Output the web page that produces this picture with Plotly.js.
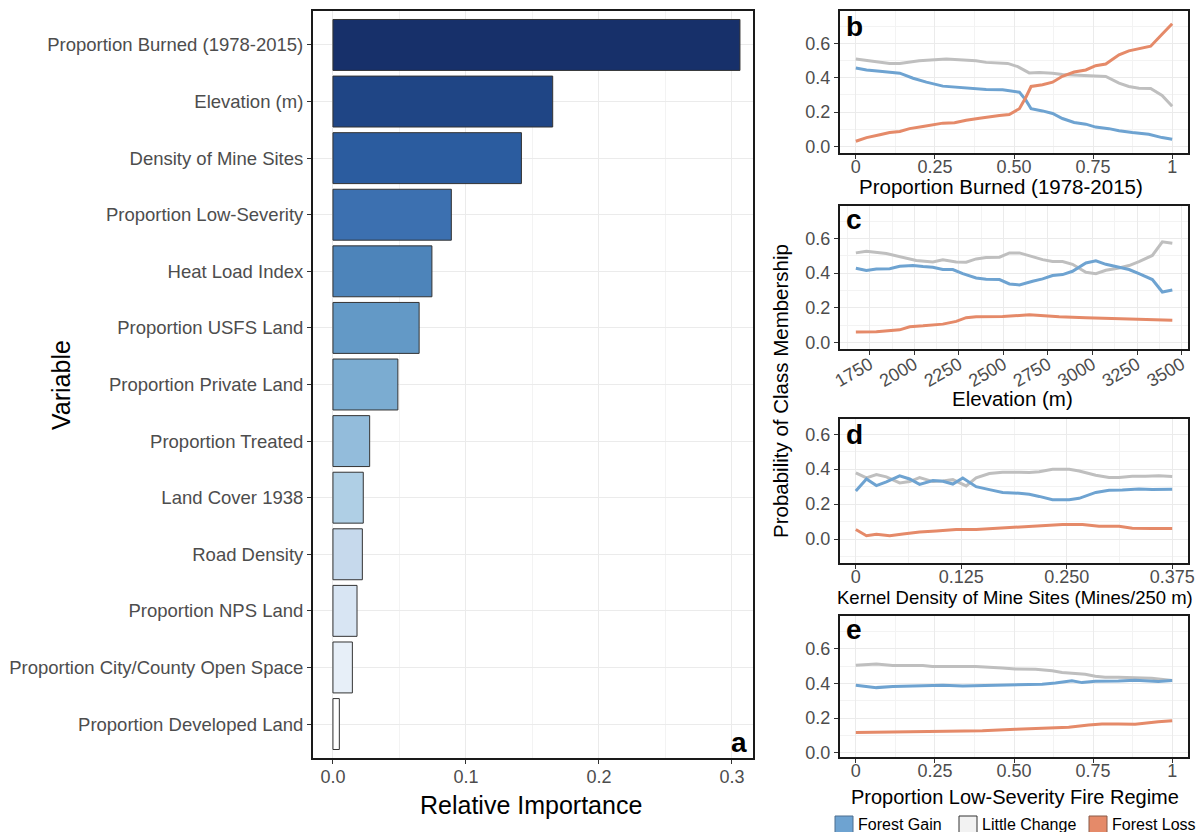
<!DOCTYPE html>
<html>
<head>
<meta charset="utf-8">
<script src="https://cdn.plot.ly/plotly-3.0.1.min.js"></script>
<style>html,body{margin:0;padding:0;background:#fff;}#chart{width:1198px;height:832px;}</style>
</head>
<body>
<div id="chart"></div>
<script>
// ---------- DATA ----------
const variables = ["Proportion Burned (1978-2015)","Elevation (m)","Density of Mine Sites","Proportion Low-Severity","Heat Load Index","Proportion USFS Land","Proportion Private Land","Proportion Treated","Land Cover 1938","Road Density","Proportion NPS Land","Proportion City/County Open Space","Proportion Developed Land"];
const importance = [0.306,0.1652,0.1417,0.0890,0.0744,0.0648,0.0488,0.0276,0.0228,0.0221,0.0181,0.0146,0.0048];
const barColors = ["#17306a","#1f4585","#2b5c9f","#3c70b0","#4d84ba","#6399c6","#7bacd1","#93bcdb","#afcfe5","#c6d9ec","#d8e5f3","#e7eff8","#ffffff"];

// Panel b: Proportion Burned
const bX_gain = [0,0.034,0.076,0.107,0.139,0.181,0.223,0.275,0.317,0.37,0.412,0.464,0.496,0.517,0.538,0.554,0.59,0.622,0.653,0.69,0.727,0.758,0.8,0.832,0.874,0.926,0.968,1];
const bY_gain = [0.456,0.445,0.437,0.433,0.426,0.397,0.374,0.351,0.345,0.336,0.332,0.33,0.324,0.316,0.268,0.22,0.207,0.192,0.163,0.14,0.13,0.113,0.104,0.092,0.081,0.071,0.052,0.042];
const bX_little = [0,0.055,0.107,0.139,0.2,0.286,0.338,0.38,0.412,0.48,0.512,0.548,0.58,0.622,0.653,0.695,0.748,0.79,0.832,0.863,0.895,0.932,0.968,1];
const bY_little = [0.508,0.495,0.483,0.483,0.499,0.508,0.504,0.499,0.489,0.483,0.464,0.428,0.43,0.426,0.418,0.414,0.407,0.407,0.368,0.349,0.339,0.337,0.297,0.234];
const bX_loss = [0,0.034,0.076,0.107,0.139,0.17,0.212,0.275,0.312,0.349,0.391,0.422,0.454,0.485,0.517,0.538,0.554,0.59,0.622,0.653,0.69,0.727,0.758,0.79,0.832,0.863,0.905,0.932,0.968,1];
const bY_loss = [0.031,0.052,0.069,0.081,0.088,0.104,0.117,0.136,0.138,0.153,0.165,0.174,0.18,0.186,0.22,0.288,0.349,0.359,0.374,0.408,0.433,0.445,0.47,0.479,0.533,0.556,0.575,0.583,0.652,0.713];

// Panel c: Elevation
const cX_gain = [1672,1731,1787,1862,1918,1993,2049,2104,2160,2216,2272,2347,2403,2478,2534,2590,2664,2720,2776,2832,2888,2963,3019,3075,3149,3205,3261,3336,3392,3448];
const cY_gain = [0.428,0.415,0.424,0.426,0.44,0.444,0.438,0.434,0.421,0.421,0.397,0.372,0.365,0.363,0.338,0.332,0.353,0.367,0.386,0.392,0.411,0.459,0.471,0.451,0.434,0.421,0.397,0.363,0.291,0.303];
const cX_little = [1672,1731,1843,1955,2011,2104,2160,2235,2291,2347,2403,2478,2534,2590,2664,2720,2776,2832,2888,2963,3019,3075,3149,3205,3261,3336,3392,3448];
const cY_little = [0.517,0.527,0.513,0.488,0.473,0.465,0.477,0.465,0.463,0.482,0.49,0.492,0.517,0.517,0.494,0.478,0.467,0.467,0.451,0.405,0.397,0.417,0.43,0.444,0.467,0.502,0.581,0.573];
const cX_loss = [1672,1787,1918,1974,2049,2160,2235,2291,2347,2496,2646,2720,2813,2963,3149,3336,3392,3448];
const cY_loss = [0.06,0.062,0.073,0.091,0.096,0.106,0.122,0.143,0.149,0.15,0.16,0.154,0.149,0.143,0.137,0.131,0.129,0.129];

// Panel d: Kernel density of mine sites
const dX_gain = [0,0.0126,0.0244,0.0362,0.052,0.0638,0.0756,0.0914,0.1032,0.115,0.1268,0.1426,0.1583,0.174,0.1938,0.2056,0.2174,0.2332,0.2529,0.2647,0.2844,0.3002,0.3159,0.3356,0.3513,0.375];
const dY_gain = [0.275,0.344,0.306,0.327,0.362,0.344,0.313,0.335,0.331,0.315,0.35,0.3,0.283,0.267,0.262,0.256,0.244,0.225,0.225,0.233,0.267,0.279,0.281,0.287,0.283,0.285];
const dX_little = [0,0.0126,0.0244,0.0362,0.052,0.0638,0.0756,0.0914,0.1032,0.115,0.1308,0.1426,0.1583,0.174,0.1938,0.2056,0.2174,0.2332,0.2529,0.2647,0.2844,0.3002,0.312,0.3277,0.3435,0.3592,0.375];
const dY_little = [0.379,0.35,0.369,0.356,0.321,0.329,0.352,0.329,0.333,0.34,0.304,0.35,0.375,0.383,0.383,0.381,0.385,0.4,0.4,0.39,0.365,0.352,0.352,0.36,0.36,0.363,0.358];
const dX_loss = [0,0.0126,0.0244,0.0402,0.0559,0.0756,0.0953,0.119,0.1426,0.1583,0.174,0.1977,0.2214,0.245,0.2687,0.2883,0.312,0.3277,0.3513,0.375];
const dY_loss = [0.054,0.019,0.027,0.019,0.029,0.04,0.046,0.054,0.054,0.058,0.063,0.071,0.075,0.083,0.083,0.073,0.073,0.062,0.06,0.06];

// Panel e: Proportion low-severity fire regime
const eX_gain = [0,0.065,0.117,0.212,0.275,0.338,0.421,0.505,0.589,0.631,0.683,0.715,0.757,0.83,0.883,0.956,1];
const eY_gain = [0.39,0.376,0.382,0.386,0.39,0.386,0.388,0.39,0.396,0.403,0.415,0.405,0.413,0.415,0.419,0.411,0.417];
const eX_little = [0,0.065,0.117,0.212,0.242,0.317,0.379,0.463,0.505,0.568,0.621,0.652,0.683,0.725,0.757,0.788,0.83,0.883,0.935,1];
const eY_little = [0.505,0.513,0.504,0.504,0.498,0.498,0.498,0.49,0.484,0.482,0.473,0.463,0.459,0.453,0.442,0.436,0.436,0.434,0.43,0.417];
const eX_loss = [0,0.149,0.296,0.4,0.505,0.621,0.673,0.736,0.778,0.83,0.883,0.956,1];
const eY_loss = [0.116,0.12,0.12,0.127,0.135,0.141,0.147,0.16,0.166,0.166,0.164,0.179,0.185];

const classNames = ["Forest Gain","Little Change","Forest Loss"];
const classColors = ["#6ea3d1","#bfbfbf","#e58a69"];
const legendFill = ["#6ea3d1","#f2f2f2","#e58a69"];
const legendLine = ["#4d6f8f","#333333","#8a5a48"];

// ---------- LAYOUT HELPERS ----------
const W = 1198, H = 832;
const PX = p => p / W;
const PY = p => 1 - p / H;
const FONT = "Liberation Sans, Arial, sans-serif";
const TICKC = "#4d4d4d";
const GRID = "#ebebeb";
const MINOR = "#f3f3f3";

const traces = [];
traces.push({
  type: "bar", orientation: "h", x: importance, y: variables,
  xaxis: "x", yaxis: "y", width: 0.9,
  marker: {color: barColors, line: {color: "#333333", width: 1}},
  showlegend: false, hoverinfo: "x+y"
});

const panels = [
  {ax: "2", sets: [[bX_gain,bY_gain],[bX_little,bY_little],[bX_loss,bY_loss]]},
  {ax: "3", sets: [[cX_gain,cY_gain],[cX_little,cY_little],[cX_loss,cY_loss]]},
  {ax: "4", sets: [[dX_gain,dY_gain],[dX_little,dY_little],[dX_loss,dY_loss]]},
  {ax: "5", sets: [[eX_gain,eY_gain],[eX_little,eY_little],[eX_loss,eY_loss]]}
];
panels.forEach(p => {
  [1,0,2].forEach(i => {
    traces.push({
      type: "scatter", mode: "lines", x: p.sets[i][0], y: p.sets[i][1],
      xaxis: "x" + p.ax, yaxis: "y" + p.ax,
      line: {color: classColors[i], width: 3}, name: classNames[i], showlegend: false
    });
  });
});

const baseAxis = {
  showline: true, mirror: true, linecolor: "#1a1a1a", linewidth: 2,
  ticks: "outside", ticklen: 4, tickcolor: "#333333", tickwidth: 1,
  tickfont: {family: FONT, size: 18, color: TICKC},
  showgrid: true, gridcolor: GRID, gridwidth: 1, zeroline: false,
  fixedrange: true
};
function ax(extra){ return Object.assign({}, baseAxis, extra); }

const rx = [PX(840), PX(1188)];
const yProb = {tickmode: "array", tickvals: [0,0.2,0.4,0.6], ticktext: ["0.0","0.2","0.4","0.6"],
  minor: {tickmode: "array", tickvals: [-0.1,0.1,0.3,0.5,0.7], showgrid: true, gridcolor: MINOR, ticklen: 0}};
const x01 = {tickmode: "array", tickvals: [0,0.25,0.5,0.75,1], ticktext: ["0","0.25","0.50","0.75","1"],
  range: [-0.05,1.05], ticklabelstandoff: -8,
  minor: {tickmode: "array", tickvals: [0.125,0.375,0.625,0.875], showgrid: true, gridcolor: MINOR, ticklen: 0}};

const layout = {
  width: W, height: H, margin: {l: 0, r: 0, t: 0, b: 0},
  paper_bgcolor: "#ffffff", plot_bgcolor: "#ffffff",
  font: {family: FONT, color: "#000"}, showlegend: false,
  xaxis: ax({domain: [PX(313), PX(753)], anchor: "y", range: [-0.015, 0.3158],
    tickmode: "array", tickvals: [0,0.1,0.2,0.3], ticktext: ["0.0","0.1","0.2","0.3"], ticklabelstandoff: -3,
    minor: {tickmode: "array", tickvals: [0.05,0.15,0.25], showgrid: true, gridcolor: MINOR, ticklen: 0}}),
  yaxis: ax({domain: [PY(758), PY(11)], anchor: "x", type: "category", range: [12.6, -0.6],
    tickfont: {family: FONT, size: 18.5, color: TICKC}}),
  xaxis2: ax(Object.assign({domain: rx, anchor: "y2"}, x01)),
  yaxis2: ax(Object.assign({domain: [PY(153), PY(11)], anchor: "x2", range: [-0.0375, 0.7875]}, yProb)),
  xaxis3: ax({domain: rx, anchor: "y3", range: [1583, 3536], tickmode: "array",
    tickvals: [1750,2000,2250,2500,2750,3000,3250,3500], ticktext: ["1750","2000","2250","2500","2750","3000","3250","3500"],
    tickangle: -30, ticklabelstandoff: -8,
    minor: {tickmode: "array", tickvals: [1625,1875,2125,2375,2625,2875,3125,3375], showgrid: true, gridcolor: MINOR, ticklen: 0}}),
  yaxis3: ax(Object.assign({domain: [PY(349), PY(206)], anchor: "x3", range: [-0.0375, 0.7875]}, yProb)),
  xaxis4: ax({domain: rx, anchor: "y4", range: [-0.01875, 0.39375], tickmode: "array",
    tickvals: [0,0.125,0.25,0.375], ticktext: ["0","0.125","0.250","0.375"], ticklabelstandoff: -8,
    minor: {tickmode: "array", tickvals: [0.0625,0.1875,0.3125], showgrid: true, gridcolor: MINOR, ticklen: 0}}),
  yaxis4: ax(Object.assign({domain: [PY(563), PY(419)], anchor: "x4", range: [-0.1375, 0.6875]}, yProb)),
  xaxis5: ax(Object.assign({domain: rx, anchor: "y5"}, x01)),
  yaxis5: ax(Object.assign({domain: [PY(757), PY(616)], anchor: "x5", range: [-0.025, 0.79]}, yProb)),
  annotations: [], shapes: []
};

function ann(text, x, y, size, opts){
  layout.annotations.push(Object.assign({text: text, xref: "paper", yref: "paper", x: PX(x), y: PY(y),
    showarrow: false, font: {family: FONT, size: size, color: "#000"}, xanchor: "center", yanchor: "middle"}, opts || {}));
}
// axis titles
ann("Relative Importance", 531, 805, 25);
ann("Variable", 61, 385, 25, {textangle: -90});
ann("Proportion Burned (1978-2015)", 1001, 186, 20.5);
ann("Elevation (m)", 1013, 398, 20.5);
ann("Kernel Density of Mine Sites (Mines/250 m)", 1015, 597, 18.5);
ann("Proportion Low-Severity Fire Regime", 1015, 797, 20);
ann("Probability of Class Membership", 780, 391, 20.5, {textangle: -90});
// panel letters
ann("<b>a</b>", 749, 742, 28, {xanchor: "right"});
ann("<b>b</b>", 844, 26, 28, {xanchor: "left"});
ann("<b>c</b>", 844, 220, 28, {xanchor: "left"});
ann("<b>d</b>", 844, 434, 28, {xanchor: "left"});
ann("<b>e</b>", 844, 629, 28, {xanchor: "left"});

// legend
const legX = [835, 959, 1089];
classNames.forEach((n, i) => {
  layout.shapes.push({type: "rect", xref: "paper", yref: "paper",
    x0: PX(legX[i]), x1: PX(legX[i] + 18), y0: PY(845), y1: PY(816),
    fillcolor: legendFill[i], line: {color: legendLine[i], width: 1}});
  ann(n, legX[i] + 21, 824, 16, {xanchor: "left"});
});

Plotly.newPlot("chart", traces, layout, {displayModeBar: false, staticPlot: true});
</script>
</body>
</html>
